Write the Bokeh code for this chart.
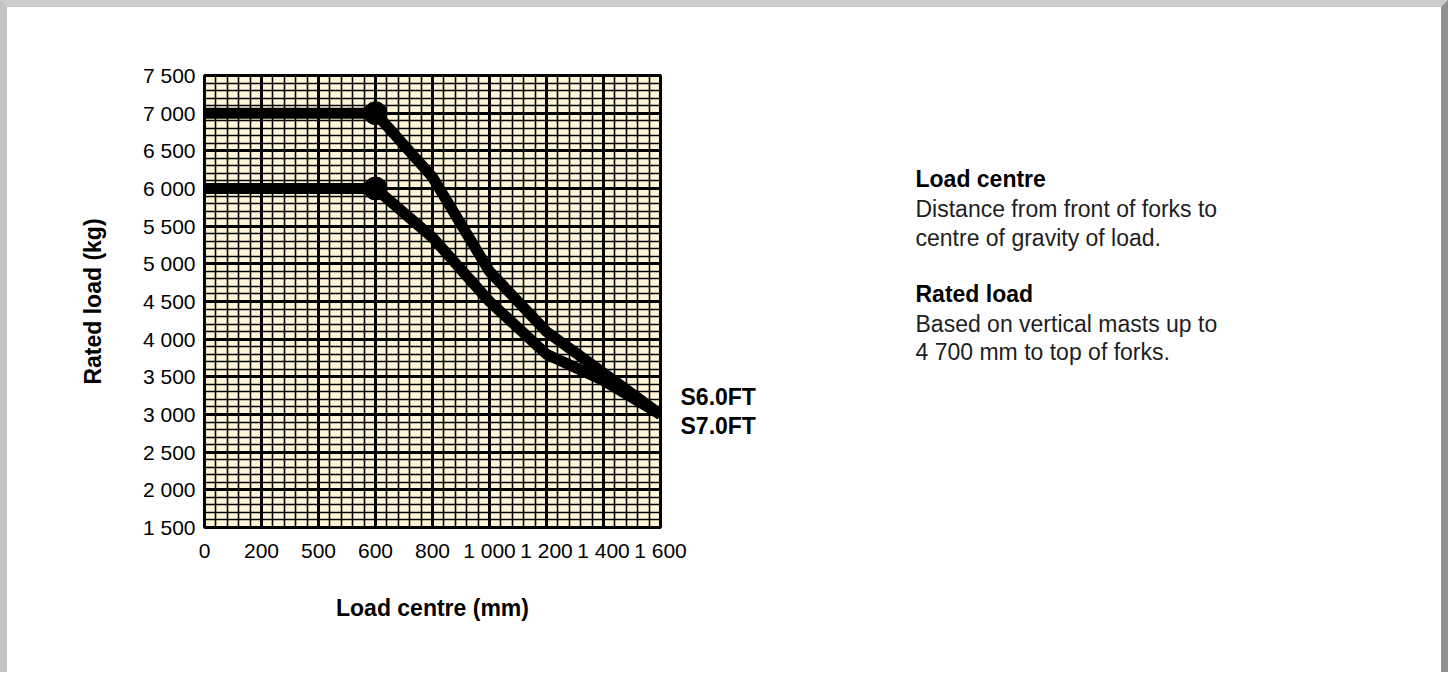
from bokeh.plotting import figure
from bokeh.models import FixedTicker, Range1d, LinearAxis
from bokeh.layouts import row
from bokeh.core.properties import value
from bokeh.embed import file_html
from bokeh.resources import INLINE

# ---- data ----
load_centre = [0, 600, 800, 1000, 1200, 1400, 1600]
s7_load = [7000, 7000, 6150, 4900, 4100, 3550, 3000]
s6_load = [6000, 6000, 5350, 4500, 3800, 3450, 3000]
knee_x = [600, 600]
knee_y = [7000, 6000]

x_ticks = [0, 200, 400, 600, 800, 1000, 1200, 1400, 1600]
x_tick_labels = ["0", "200", "500", "600", "800", "1 000", "1 200", "1 400", "1 600"]
y_ticks = [1500, 2000, 2500, 3000, 3500, 4000, 4500, 5000, 5500, 6000, 6500, 7000, 7500]
y_tick_labels = ["1 500", "2 000", "2 500", "3 000", "3 500", "4 000", "4 500",
                 "5 000", "5 500", "6 000", "6 500", "7 000", "7 500"]
x_minor = list(range(0, 1601, 40))
y_minor = list(range(1500, 7501, 100))

series_names = ["S6.0FT", "S7.0FT"]
note_titles = ["Load centre", "Rated load"]
note_bodies = [["Distance from front of forks to", "centre of gravity of load."],
               ["Based on vertical masts up to", "4 700 mm to top of forks."]]

FONT = "Liberation Sans"
PAD = 7                       # grey page edge around the white panel
H = 672 - PAD
FRAME_L, FRAME_T, FRAME_W, FRAME_H = 204 - PAD, 75 - PAD, 456, 452
RIGHT_B = 110
W1 = FRAME_L + FRAME_W + RIGHT_B
W2 = 1449 - 2 * PAD - W1 - 1

p = figure(width=W1, height=H, x_range=(0, 1600), y_range=(1500, 7500),
           min_border_left=FRAME_L, min_border_right=RIGHT_B,
           min_border_top=FRAME_T, min_border_bottom=H - FRAME_T - FRAME_H,
           output_backend="svg", toolbar_location=None, tools="")

p.background_fill_color = "#FFF6DA"
p.border_fill_color = "white"
p.outline_line_color = "black"
p.outline_line_width = 3

# grid
p.xgrid.ticker = FixedTicker(ticks=x_ticks, minor_ticks=x_minor)
p.ygrid.ticker = FixedTicker(ticks=y_ticks, minor_ticks=y_minor)
for g in (p.xgrid, p.ygrid):
    g.grid_line_color = "black"
    g.grid_line_width = 3
    g.grid_line_alpha = 1
    g.minor_grid_line_color = "#000000"
    g.minor_grid_line_width = 1.6

# axes
p.xaxis.ticker = FixedTicker(ticks=x_ticks)
p.xaxis.major_label_overrides = {t: l for t, l in zip(x_ticks, x_tick_labels)}
p.yaxis.ticker = FixedTicker(ticks=y_ticks)
p.yaxis.major_label_overrides = {t: l for t, l in zip(y_ticks, y_tick_labels)}

# series names as a right-hand axis next to the curve ends
label_pos = [3226, 2841]
raxis = LinearAxis(ticker=FixedTicker(ticks=label_pos),
                   major_label_overrides={t: n for t, n in zip(label_pos, series_names)})
p.add_layout(raxis, "right")

for ax in (p.xaxis[0], p.yaxis[0], raxis):
    ax.axis_line_color = None
    ax.major_tick_line_color = None
    ax.minor_tick_line_color = None
    ax.major_tick_in = 0
    ax.major_tick_out = 0
    ax.minor_tick_in = 0
    ax.minor_tick_out = 0
    ax.major_label_text_font = FONT
    ax.major_label_text_font_size = "21px"
    ax.major_label_text_color = "black"
    ax.axis_label_text_font = FONT
    ax.axis_label_text_font_style = "bold"
    ax.axis_label_text_font_size = "23px"
    ax.axis_label_text_color = "black"

raxis.major_label_text_font_style = "bold"
raxis.major_label_text_font_size = "23px"
raxis.major_label_standoff = 20

p.xaxis[0].axis_label = "Load centre (mm)"
p.yaxis[0].axis_label = "Rated load (kg)"
p.xaxis[0].major_label_standoff = 11
p.yaxis[0].major_label_standoff = 9
p.xaxis[0].axis_label_standoff = 30
p.yaxis[0].axis_label_standoff = 34

# curves
p.line(load_centre, s7_load, line_width=11, line_color="black", line_join="round")
p.line(load_centre, s6_load, line_width=11, line_color="black", line_join="round")
p.scatter(knee_x, knee_y, size=23, fill_color="black", line_color="black")

# ---- right-hand notes panel (its frame is aligned with the chart frame) ----
q = figure(width=W2, height=H, x_range=Range1d(0, W2),
           y_range=Range1d(FRAME_T + FRAME_H, FRAME_T),
           min_border=0, output_backend="svg", toolbar_location=None, tools="")
q.axis.visible = False
q.grid.visible = False
q.outline_line_color = None
q.background_fill_color = None
q.border_fill_color = "white"

tx = 915 - PAD - W1
q.text(x=[tx] * 2, y=[178 - PAD, 293 - PAD], text=note_titles,
       text_font=value(FONT), text_font_style="bold", text_font_size="23px",
       text_baseline="middle", text_color="black")
body_y = [[208, 237], [323, 351]]
bx, by, bt = [], [], []
for lines, ys in zip(note_bodies, body_y):
    for t, yy in zip(lines, ys):
        bx.append(tx)
        by.append(yy - PAD)
        bt.append(t)
q.text(x=bx, y=by, text=bt, text_font=value(FONT), text_font_size="23px",
       text_baseline="middle", text_color="#1e1e1e")

layout = row(p, q, spacing=0,
             styles={"background-color": "white",
                     "border-top": f"{PAD}px solid #cccccc",
                     "border-left": f"{PAD}px solid #c4c4c4",
                     "border-right": f"{PAD}px solid #8f8f8f"})
open("out.html", "w").write(file_html(layout, INLINE))
